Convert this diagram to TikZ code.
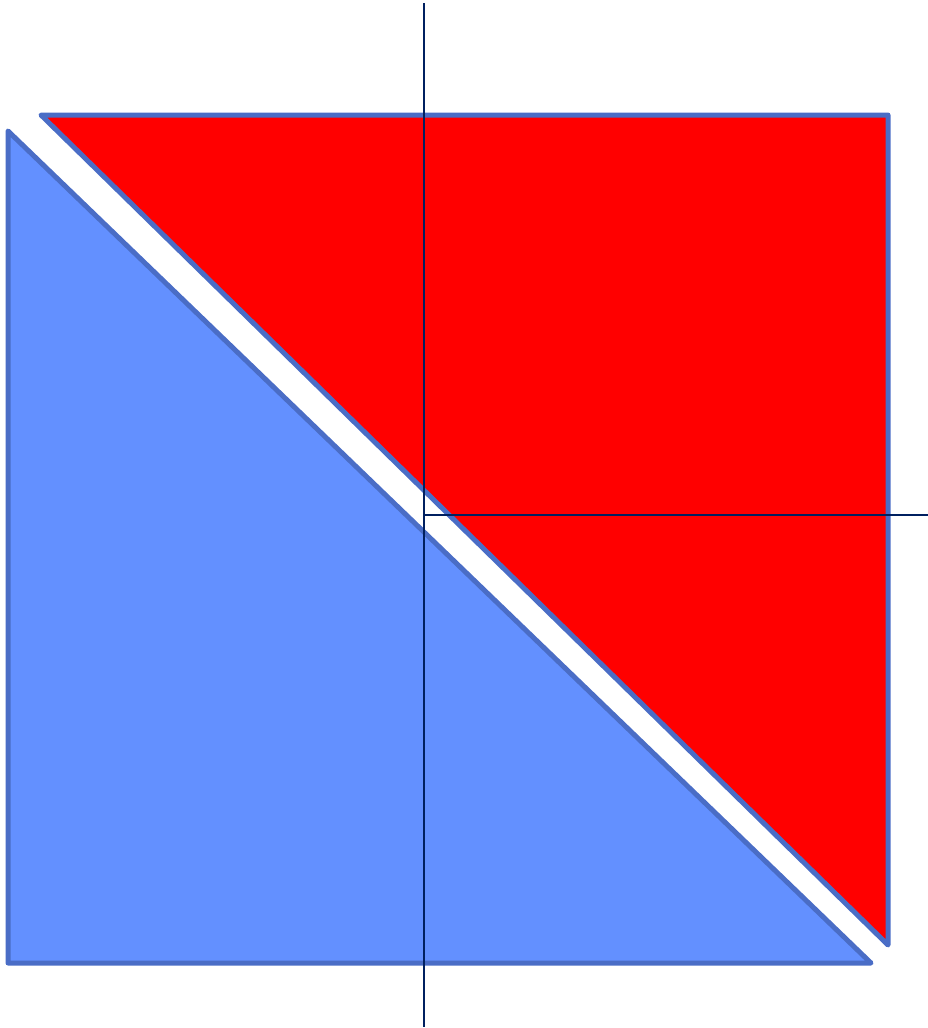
\documentclass[tikz,border=0pt]{standalone}
\usepackage{tikz}
\definecolor{edgeblue}{HTML}{4A6DC6}
\definecolor{fillblue}{HTML}{6390FF}
\definecolor{axisnavy}{HTML}{002060}
\begin{document}
\begin{tikzpicture}[x=1pt,y=-1pt,
  tri/.style={draw=edgeblue,line width=5pt,line join=round,line cap=round},
  axis/.style={draw=axisnavy,line width=2pt}]
\useasboundingbox (0,0) rectangle (928,1028);
\coordinate (O) at (424,515);
\coordinate (Top) at (424,3);
\coordinate (Bot) at (424,1027);
\coordinate (Right) at (928,515);
\draw[tri,fill=fillblue] (8,131) -- (8,963) -- (871,963) -- cycle;
\draw[tri,fill=red] (41,115) -- (888,115) -- (888,945) -- cycle;
\draw[axis] (Top) -- (Bot);
\draw[axis] (O) -- (Right);
\end{tikzpicture}
\end{document}
